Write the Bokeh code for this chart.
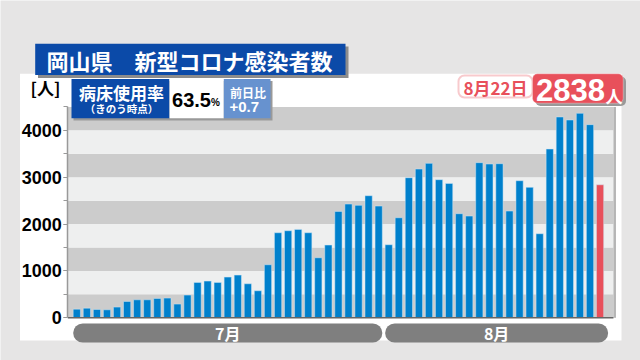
from bokeh.plotting import figure
from bokeh.models import BoxAnnotation, Label, SingleIntervalTicker, ColumnDataSource
from bokeh.embed import file_html
from bokeh.resources import INLINE

# ---------------- data ----------------
months = ["7月", "8月"]
month_days = [31, 22]
cases = [185, 206, 178, 171, 228, 349, 384, 384, 413, 420,
         292, 484, 754, 783, 754, 868, 911, 726, 577, 1132,
         1815, 1858, 1886, 1815, 1281, 1552, 2270, 2427, 2399, 2605,
         2384, 1559, 2135, 2989, 3174, 3295, 2947, 2868, 2221, 2171,
         3310, 3281, 3288, 2278, 2925, 2783, 1794, 3601, 4285, 4221,
         4363, 4121, 2838]
y_ticks_step = 1000
y_max = 4500
bed_rate = "63.5"
bed_diff = "+0.7"
latest_date = "8月22日"
title_text = "岡山県　新型コロナ感染者数"

# ---------------- style ----------------
BLUE = "#0080cc"
RED = "#e8505b"
NAVY = "#0b4aa8"
LIGHTBLUE = "#6792cf"
BG = "#e6e5e5"
DARK_BAND = "#cccccc"
LIGHT_BAND = "#eeefef"
PILL = "#7f7f7f"
JP = "Noto Sans CJK JP"
NUM = "Liberation Sans"

W, H = 640, 360
# plot-area edges in data units (x) ; the frame covers the whole canvas
X_LEFT, X_RIGHT = 0.106, 54.33

n = len(cases)
xs = list(range(1, n + 1))
colors = [BLUE] * (n - 1) + [RED]
src = ColumnDataSource(dict(x=xs, top=cases, color=colors))

p = figure(width=W, height=H, output_backend="svg", toolbar_location=None,
           x_range=(-6.582, 57.018), y_range=(-911, 6770),
           min_border_left=0, min_border_right=0, min_border_top=0, min_border_bottom=0)
p.border_fill_color = BG
p.background_fill_color = BG
p.outline_line_color = None
p.xaxis.visible = False
p.xgrid.visible = False
p.ygrid.visible = False


def box(l, t, r, b, color, line_color=None, line_width=1, radius=0, lunits="canvas",
        level="annotation"):
    p.add_layout(BoxAnnotation(left=l, right=r, top=t, bottom=b,
                               left_units=lunits, right_units=lunits,
                               top_units="canvas", bottom_units="canvas",
                               fill_color=color, fill_alpha=1 if color else 0,
                               line_color=line_color, line_width=line_width,
                               border_radius=radius, level=level))


def label(x, y, text, size, color, font=JP, align="center", baseline="middle",
          style="bold", xunits="canvas"):
    p.add_layout(Label(x=x, y=y, x_units=xunits, y_units="canvas", text=text,
                       text_font_size=f"{size}px", text_color=color, text_font=font,
                       text_font_style=style, text_align=align, text_baseline=baseline))


# white panel
box(19.5, 73.3, 621, 340, "white", level="underlay")

# bands every 500 inside the plot area
for k in range(y_max // 500):
    p.add_layout(BoxAnnotation(left=X_LEFT, right=X_RIGHT, bottom=k * 500, top=(k + 1) * 500,
                               fill_color=DARK_BAND if k % 2 == 0 else LIGHT_BAND,
                               fill_alpha=1, line_color=None, level="underlay"))
# right edge of plot area
p.add_layout(BoxAnnotation(left=X_RIGHT, right=X_RIGHT + 0.25, bottom=0, top=y_max,
                           fill_color="#b5b5b5", fill_alpha=1, line_color=None,
                           level="underlay"))

p.vbar(x="x", top="top", width=0.72, color="color", source=src,
       line_color="#cfe6f5", line_width=0.5)

# baseline
p.segment(x0=[X_LEFT], x1=[X_RIGHT], y0=[0], y1=[0], line_color="#666666", line_width=1.5)

ax = p.yaxis[0]
ax.fixed_location = X_LEFT
ax.bounds = (0, y_max)
ax.ticker = SingleIntervalTicker(interval=y_ticks_step, num_minor_ticks=2)
ax.major_label_text_font = NUM
ax.major_label_text_font_style = "bold"
ax.major_label_text_font_size = "18px"
ax.major_label_text_color = "black"
ax.axis_line_color = "#999999"
ax.axis_line_width = 1.5
ax.major_tick_line_color = "#999999"
ax.minor_tick_line_color = "#999999"
ax.major_tick_out = 4
ax.major_tick_in = 0
ax.minor_tick_out = 4
ax.minor_tick_in = 0
ax.major_label_standoff = 2

# title
box(37.5, 46, 348, 77.5, "#8c8c8c")
box(34.7, 43.3, 345, 74.5, NAVY)
label(189, 59.5, title_text, 22, "white")

# y unit
label(45, 87, "[人]", 17, "black")

# bed usage info
box(73, 80.5, 272, 120, "#999999")
box(71, 78.5, 169, 117.7, NAVY)
box(169, 78.5, 223.3, 117.7, "white")
box(223.3, 78.5, 270, 117.7, LIGHTBLUE)
label(121, 92, "病床使用率", 17, "white")
label(121, 107.5, "（きのう時点）", 10.5, "white")
label(191, 99.5, bed_rate, 20, "black", font=NUM)
label(210.5, 101.5, "%", 10, "black", font=NUM, align="left")
label(229.5, 92, "前日比", 12, "white", align="left")
label(229, 106.5, bed_diff, 15, "white", font=NUM, align="left")

# latest value labels
box(458, 75, 532, 97, "white", line_color=RED, line_width=2, radius=6)
label(495, 86.5, latest_date, 17, RED)
box(535, 76, 625.5, 105.5, "#999999", radius=5)
box(532, 73.3, 622.7, 102.7, RED, line_color="white", line_width=1, radius=5)
label(570, 89.5, f"{cases[-1]}", 31, "white", font=NUM)
label(613.5, 95, "人", 17, "white")

# month pills
start = 1
for m, d in zip(months, month_days):
    left = start - 0.36
    right = start + d - 1 + (0.36 if start == 1 else 0.8)
    box(left, 323, right, 342, PILL, radius=10, lunits="data")
    label((left + right) / 2, 332.5, m, 16, "white", xunits="data")
    start += d

open("out.html", "w").write(file_html(p, INLINE))
